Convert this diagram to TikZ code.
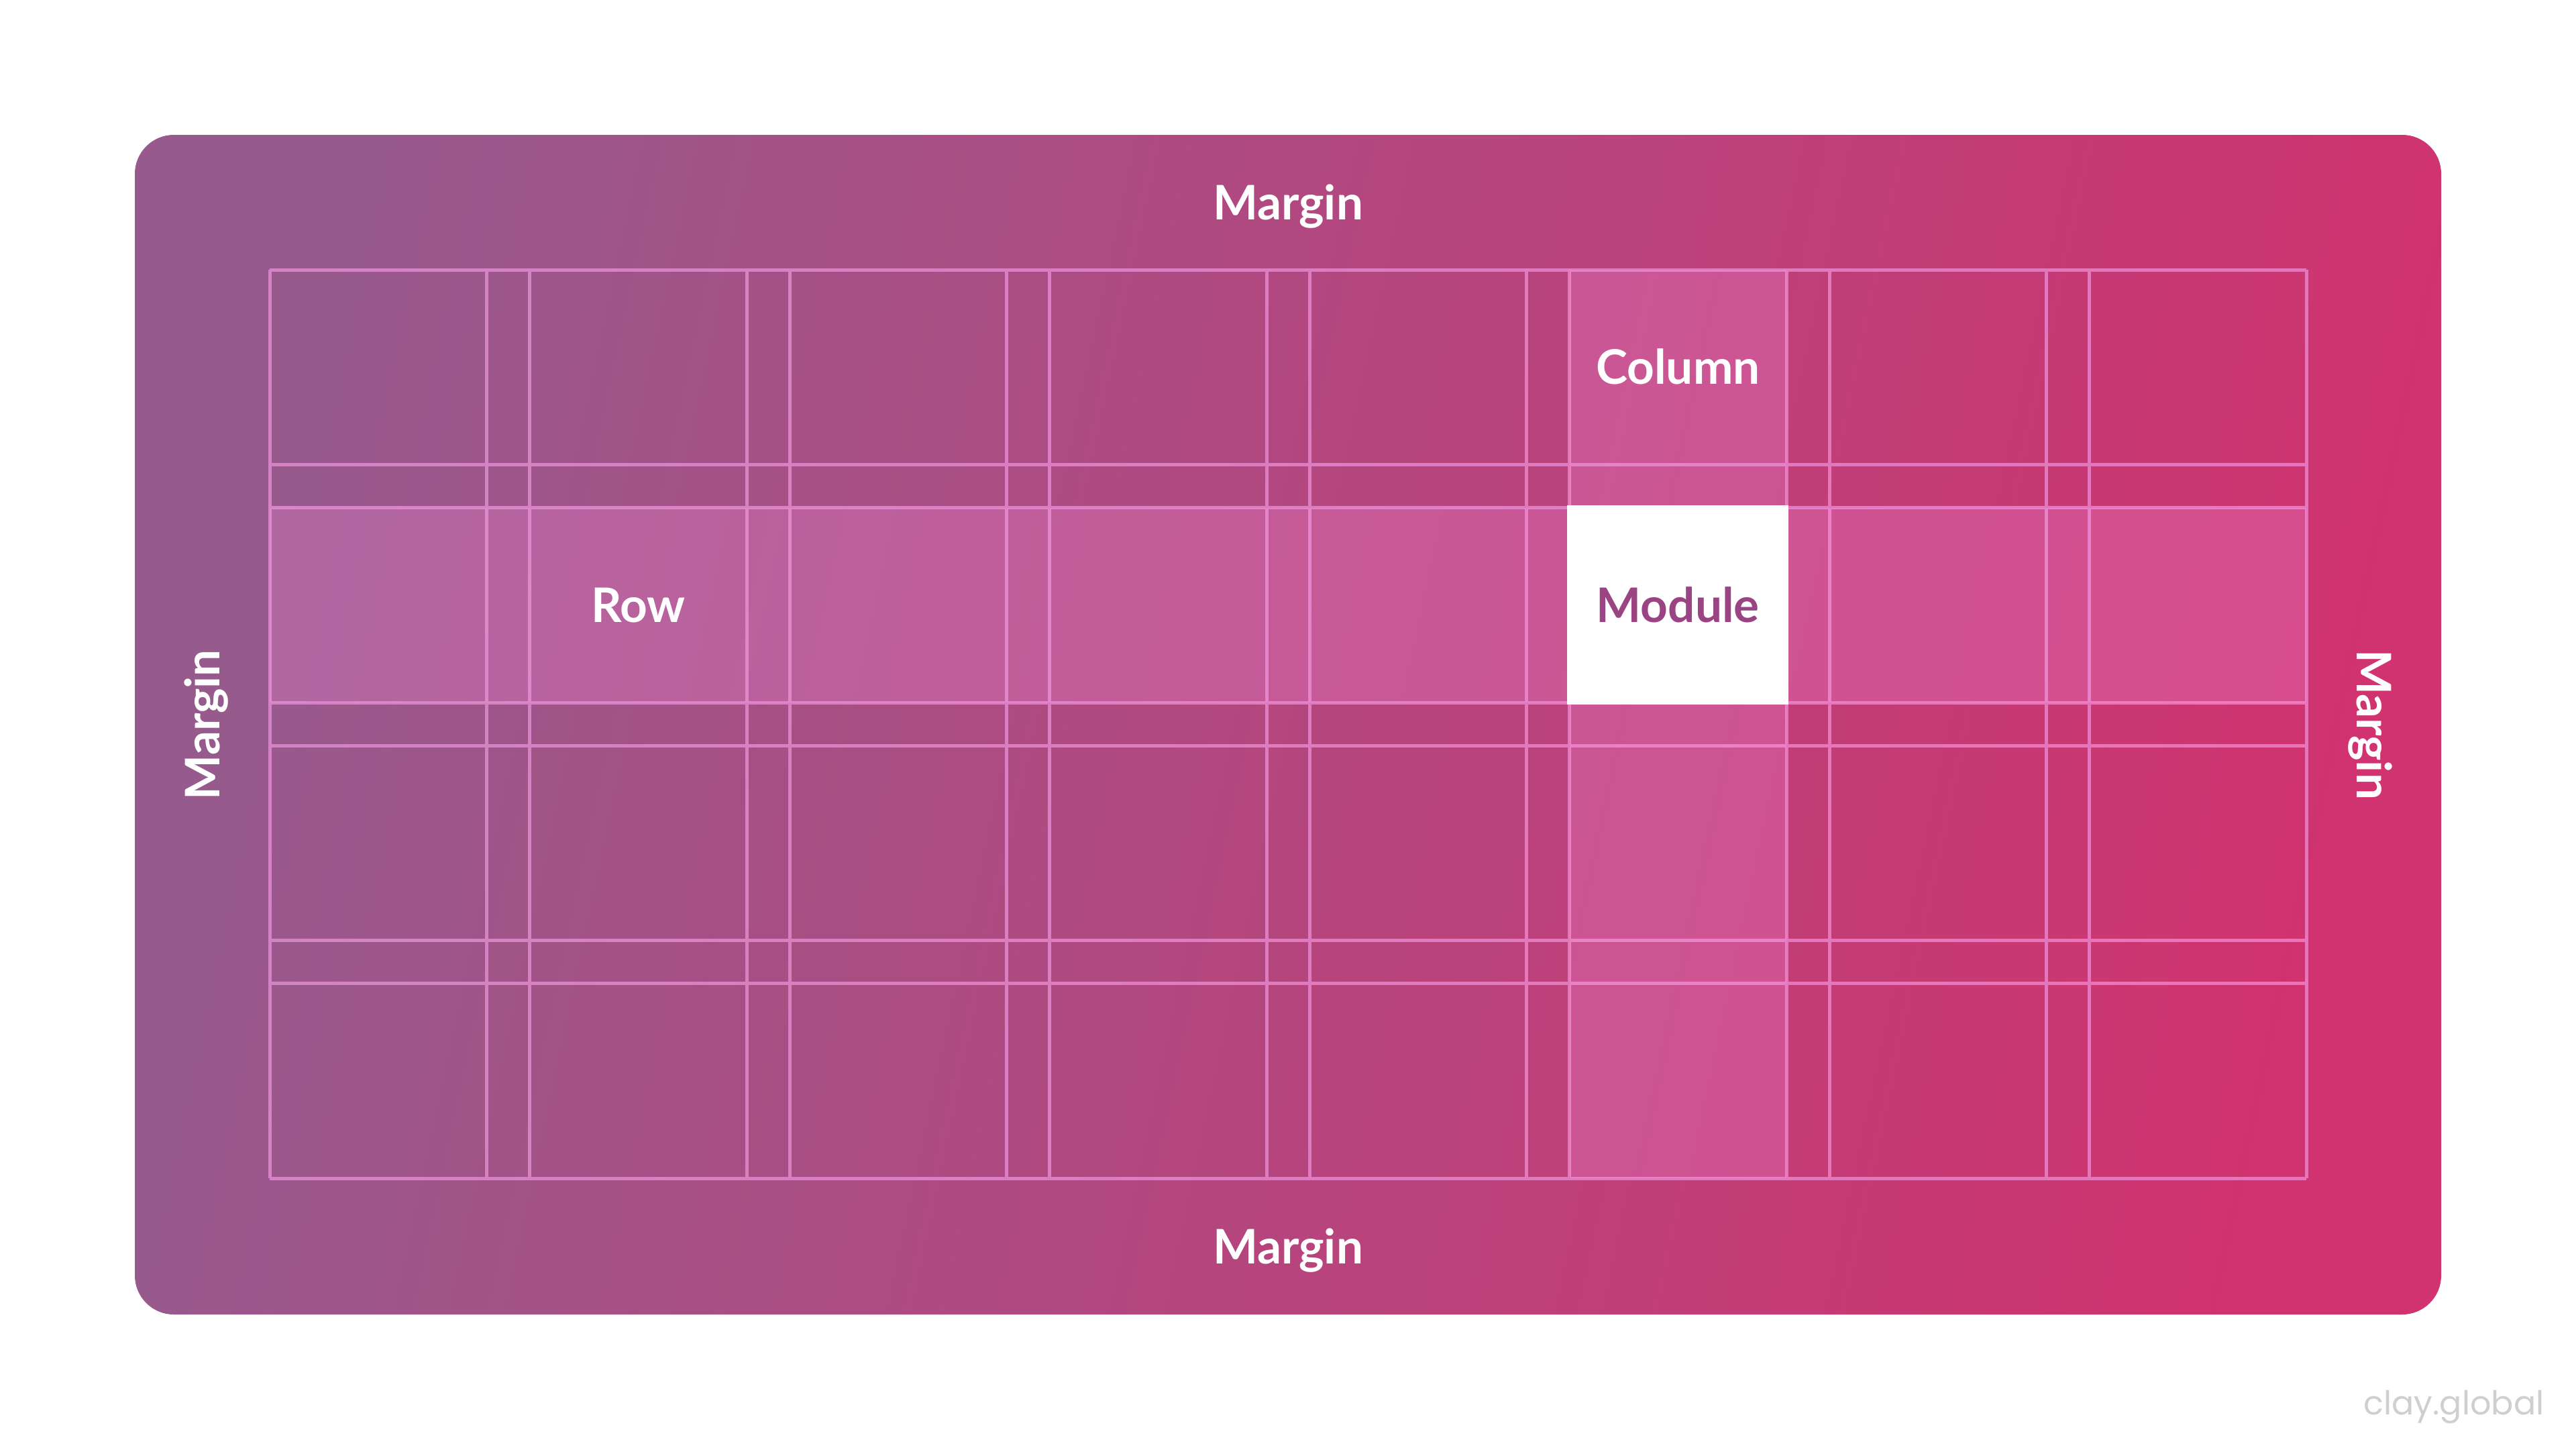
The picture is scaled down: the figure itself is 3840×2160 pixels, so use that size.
\documentclass[tikz,border=0pt]{standalone}
\usepackage{fontspec}
\setmainfont{Lato}
\newfontfamily\creditfont{Poppins}
\definecolor{panelleft}{HTML}{975A8D}
\definecolor{panelright}{HTML}{D0336F}
\definecolor{guidepink}{RGB}{250,160,235}
\definecolor{glowpink}{RGB}{240,136,210}
\definecolor{moduletext}{HTML}{9A4484}
\definecolor{creditgrey}{HTML}{CFCFCF}
\tikzset {
  % pink panel behind the grid
  panel/.style={left color=panelleft, right color=panelright, shading angle=78, rounded corners=0.58cm},
  % thin grid lines
  guide/.style={draw=guidepink, draw opacity=0.6, line width=0.05cm},
  % highlighted row and column
  glow/.style={fill=glowpink, fill opacity=0.3},
  % white labels
  tag/.style={text=white, font=\bfseries\fontsize{20.2pt}{24pt}\selectfont,
    inner sep=0pt, text height=0.51cm, text depth=0pt},
  modulebox/.style={tag, fill=white, text=moduletext, minimum width=3.3cm, minimum height=2.97cm},
  credit/.style={text=creditgrey, font=\creditfont\fontsize{14pt}{17pt}\selectfont, inner sep=0pt, anchor=base},
}
\begin{document}
\begin{tikzpicture}[x=0.01cm, y=-0.01cm]
  \useasboundingbox (0,0) rectangle (3840,2160);
  \shade[panel] (201,201) rectangle (3639,1959);

  \fill[glow] (402,756.5) rectangle (3438,1047);
  \fill[glow] (2339.5,402) rectangle (2663,1756);

  \draw[guide]
    foreach \c in {0,...,7} {
      ({402+387.5*\c},402) -- ({402+387.5*\c},1756)
      ({725.5+387.5*\c},402) -- ({725.5+387.5*\c},1756)
    }
    foreach \r in {0,...,3} {
      (402,{402+354.5*\r}) -- (3438,{402+354.5*\r})
      (402,{692.5+354.5*\r}) -- (3438,{692.5+354.5*\r})
    };

  \node[modulebox] (module) at (2501.25,901.75) {Module};
  \node[tag] (column) at (2501.25,547.25) {Column};
  \node[tag] (row) at (951.25,901.75) {Row};

  \node[tag] (mtop) at (1920,301.5) {Margin};
  \node[tag] (mbottom) at (1920,1857.5) {Margin};
  \node[tag, rotate=90] (mleft) at (301.5,1080) {Margin};
  \node[tag, rotate=-90] (mright) at (3538.5,1080) {Margin};

  \node[credit] (clay) at (3658,2108) {clay.global};
\end{tikzpicture}
\end{document}
